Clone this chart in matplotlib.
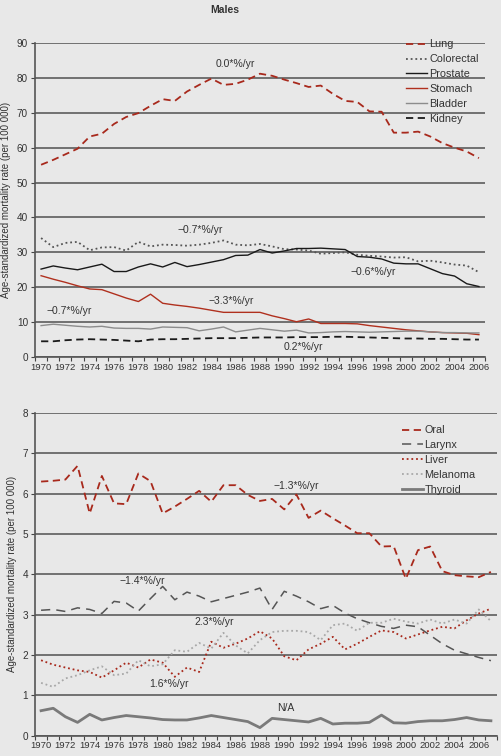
import matplotlib
matplotlib.use("Agg")
from matplotlib import pyplot as plt

plt.rcParams['font.family'] = ['Liberation Sans', 'DejaVu Sans']
plt.rcParams['font.size'] = 7

# ---- data: males, top panel (1970-2006) ----
years_top = list(range(1970, 2007))
lung = [55.1, 56.5, 58.1, 59.7, 63.2, 64.0, 66.8, 68.8, 69.9, 72.0,
        73.9, 73.4, 76.1, 78.0, 79.8, 78.0, 78.3, 79.5, 81.2, 80.6,
        79.5, 78.5, 77.4, 77.8, 75.4, 73.4, 73.1, 70.4, 70.3, 64.3,
        64.3, 64.6, 63.2, 61.3, 60.0, 58.9, 57.0]
colorectal = [34.1, 31.5, 32.7, 33.0, 30.6, 31.4, 31.5, 30.5, 33.0, 31.7,
              32.2, 32.1, 31.9, 32.2, 32.7, 33.4, 32.2, 32.0, 32.4, 31.7,
              30.9, 30.8, 30.5, 29.6, 29.8, 30.0, 29.3, 29.0, 28.8, 28.5,
              28.6, 27.4, 27.6, 27.1, 26.5, 26.2, 24.3]
prostate = [25.2, 26.1, 25.5, 25.0, 25.8, 26.6, 24.5, 24.5, 25.8, 26.7,
            25.8, 27.1, 25.9, 26.5, 27.2, 27.9, 29.1, 29.2, 30.8, 29.8,
            30.4, 31.1, 31.1, 31.2, 31.0, 30.8, 28.8, 28.6, 28.1, 26.9,
            26.7, 26.7, 25.3, 23.9, 23.2, 21.0, 20.2]
stomach = [23.3, 22.3, 21.4, 20.4, 19.5, 19.3, 18.1, 16.9, 15.9, 18.0,
           15.4, 14.9, 14.5, 14.0, 13.4, 12.8, 12.8, 12.8, 12.8, 11.8,
           11.0, 10.1, 10.9, 9.6, 9.6, 9.6, 9.5, 9.0, 8.6, 8.2,
           7.8, 7.5, 7.2, 7.0, 6.9, 6.8, 6.4]
bladder = [9.0, 9.4, 9.1, 8.8, 8.6, 8.8, 8.3, 8.2, 8.2, 8.0,
           8.6, 8.5, 8.4, 7.5, 8.0, 8.6, 7.2, 7.7, 8.2, 7.8,
           7.4, 7.7, 6.9, 7.0, 7.2, 7.3, 7.2, 7.1, 7.2, 7.3,
           7.4, 7.4, 7.2, 7.0, 7.0, 6.9, 6.9]
kidney = [4.5, 4.5, 4.8, 5.0, 5.1, 5.0, 4.9, 4.7, 4.5, 5.0,
          5.1, 5.1, 5.2, 5.3, 5.4, 5.4, 5.4, 5.5, 5.6, 5.6,
          5.6, 5.7, 5.7, 5.7, 5.8, 5.8, 5.7, 5.6, 5.5, 5.4,
          5.3, 5.3, 5.2, 5.2, 5.1, 5.0, 5.0]

# ---- data: bottom panel (1970-2007) ----
years_bot = list(range(1970, 2008))
oral = [6.30, 6.32, 6.35, 6.69, 5.51, 6.44, 5.76, 5.74, 6.50, 6.31,
        5.51, 5.68, 5.87, 6.07, 5.80, 6.21, 6.21, 5.97, 5.82, 5.87,
        5.61, 5.98, 5.40, 5.58, 5.39, 5.21, 5.02, 5.02, 4.69, 4.70,
        3.89, 4.60, 4.69, 4.08, 3.98, 3.95, 3.93, 4.06]
larynx = [3.11, 3.13, 3.08, 3.17, 3.13, 3.03, 3.33, 3.29, 3.09, 3.40,
          3.70, 3.37, 3.56, 3.46, 3.32, 3.40, 3.48, 3.56, 3.66, 3.13,
          3.58, 3.46, 3.32, 3.15, 3.23, 3.04, 2.90, 2.80, 2.71, 2.66,
          2.74, 2.70, 2.49, 2.28, 2.12, 2.03, 1.94, 1.86]
liver = [1.87, 1.76, 1.69, 1.62, 1.58, 1.44, 1.62, 1.81, 1.69, 1.89,
         1.81, 1.46, 1.69, 1.58, 2.33, 2.18, 2.28, 2.41, 2.59, 2.41,
         1.97, 1.87, 2.14, 2.28, 2.45, 2.14, 2.28, 2.45, 2.61, 2.57,
         2.41, 2.51, 2.61, 2.70, 2.66, 2.86, 3.03, 3.15]
melanoma = [1.31, 1.21, 1.42, 1.50, 1.62, 1.72, 1.50, 1.54, 1.87, 1.72,
            1.77, 2.12, 2.08, 2.30, 2.16, 2.55, 2.24, 2.04, 2.37, 2.57,
            2.60, 2.60, 2.57, 2.37, 2.74, 2.78, 2.60, 2.80, 2.80, 2.90,
            2.83, 2.78, 2.88, 2.78, 2.88, 2.78, 3.13, 2.84]
thyroid = [0.62, 0.68, 0.47, 0.33, 0.53, 0.39, 0.45, 0.50, 0.47, 0.44,
           0.40, 0.39, 0.39, 0.44, 0.50, 0.45, 0.40, 0.35, 0.20, 0.43,
           0.40, 0.37, 0.34, 0.43, 0.29, 0.31, 0.31, 0.33, 0.51, 0.32,
           0.31, 0.35, 0.37, 0.37, 0.40, 0.45, 0.39, 0.37]

bg = '#e8e8e8'
red = '#a8291c'
txt = '#333333'


def style_axis(ax, years, ymax, ystep):
    ax.set_facecolor(bg)
    ax.set_xlim(years[0] - 0.5, years[-1] + 0.5)
    ax.set_ylim(0, ymax)
    ax.set_yticks([v * ystep for v in range(int(ymax / ystep) + 1)])
    labels = [y for y in years if y % 2 == 0 and y <= 2006]
    ax.set_xticks(labels)
    ax.set_xticklabels([str(y) for y in labels], fontsize=6.8)
    ax.set_xticks([y - 0.5 for y in years] + [years[-1] + 0.5], minor=True)
    ax.tick_params(axis='x', which='major', length=0, pad=4, colors=txt)
    ax.tick_params(axis='x', which='minor', length=3, width=0.8, color='#444444')
    ax.tick_params(axis='y', length=3, width=0.8, color='#444444', pad=2,
                   labelcolor=txt, labelsize=7.2)
    ax.grid(axis='y', color='#505050', linewidth=1.1)
    ax.set_axisbelow(True)
    for s in ['top', 'right']:
        ax.spines[s].set_visible(False)
    for s in ['left', 'bottom']:
        ax.spines[s].set_color('#555555')
        ax.spines[s].set_linewidth(1.2)
    ax.set_ylabel('Age-standardized mortality rate (per 100 000)', color=txt,
                  labelpad=4, fontsize=7)


fig = plt.figure(figsize=(5.01, 7.56), dpi=100)
fig.patch.set_facecolor(bg)

# top panel
ax1 = fig.add_axes([35 / 501, 1 - 357 / 756, 450 / 501, 314 / 756])
ax1.plot(years_top, lung, color=red, lw=1.3, ls=(0, (4, 2.5)), label='Lung')
ax1.plot(years_top, colorectal, color='#555555', lw=1.3, ls=(0, (1, 1.6)), label='Colorectal')
ax1.plot(years_top, prostate, color='#1a1a1a', lw=1.0, label='Prostate')
ax1.plot(years_top, stomach, color='#b0301e', lw=1.0, label='Stomach')
ax1.plot(years_top, bladder, color='#8c8c8c', lw=1.0, label='Bladder')
ax1.plot(years_top, kidney, color='#1a1a1a', lw=1.3, ls=(0, (4, 2.5)), label='Kidney')
style_axis(ax1, years_top, 90, 10)
ax1.legend(loc='upper left', bbox_to_anchor=(0.815, 1.025), frameon=False,
           handlelength=1.9, handletextpad=0.25, labelspacing=0.45, fontsize=7.8,
           borderaxespad=0, labelcolor=txt)
ax1.text(1986.0, 84.0, '0.0*%/yr', ha='center', va='center', fontsize=7.5, color=txt)
ax1.text(1983.1, 36.4, '\u22120.7*%/yr', ha='center', va='center', fontsize=7.5, color=txt)
ax1.text(1997.3, 24.5, '\u22120.6*%/yr', ha='center', va='center', fontsize=7.5, color=txt)
ax1.text(1985.6, 16.0, '\u22123.3*%/yr', ha='center', va='center', fontsize=7.5, color=txt)
ax1.text(1972.3, 13.2, '\u22120.7*%/yr', ha='center', va='center', fontsize=7.5, color=txt)
ax1.text(1991.6, 2.95, '0.2*%/yr', ha='center', va='center', fontsize=7.5, color=txt)
fig.text(225 / 501, 1 - 10 / 756, 'Males', ha='center', va='center', fontsize=7.5,
         fontweight='bold', color=txt)

# bottom panel
ax2 = fig.add_axes([35 / 501, 1 - 735.7 / 756, 462 / 501, 322.7 / 756])
ax2.plot(years_bot, oral, color=red, lw=1.3, ls=(0, (4, 2.5)), label='Oral')
ax2.plot(years_bot, larynx, color='#555555', lw=1.1, ls=(0, (6, 4)), label='Larynx')
ax2.plot(years_bot, liver, color=red, lw=1.3, ls=(0, (1, 1.6)), label='Liver')
ax2.plot(years_bot, melanoma, color='#a8a8a8', lw=1.3, ls=(0, (1, 1.6)), label='Melanoma')
ax2.plot(years_bot, thyroid, color='#7a7a7a', lw=2.0, label='Thyroid')
style_axis(ax2, years_bot, 8, 1)
ax2.legend(loc='upper left', bbox_to_anchor=(0.785, 0.975), frameon=False,
           handlelength=1.9, handletextpad=0.15, labelspacing=0.45, fontsize=7.8,
           borderaxespad=0, labelcolor=txt)
ax2.text(1991.0, 6.20, '\u22121.3*%/yr', ha='center', va='center', fontsize=7.5, color=txt)
ax2.text(1978.3, 3.84, '\u22121.4*%/yr', ha='center', va='center', fontsize=7.5, color=txt)
ax2.text(1984.2, 2.81, '2.3*%/yr', ha='center', va='center', fontsize=7.5, color=txt)
ax2.text(1980.5, 1.28, '1.6*%/yr', ha='center', va='center', fontsize=7.5, color=txt)
ax2.text(1990.1, 0.68, 'N/A', ha='center', va='center', fontsize=7.5, color=txt)

fig.savefig('out.png', dpi=100, facecolor=bg)
